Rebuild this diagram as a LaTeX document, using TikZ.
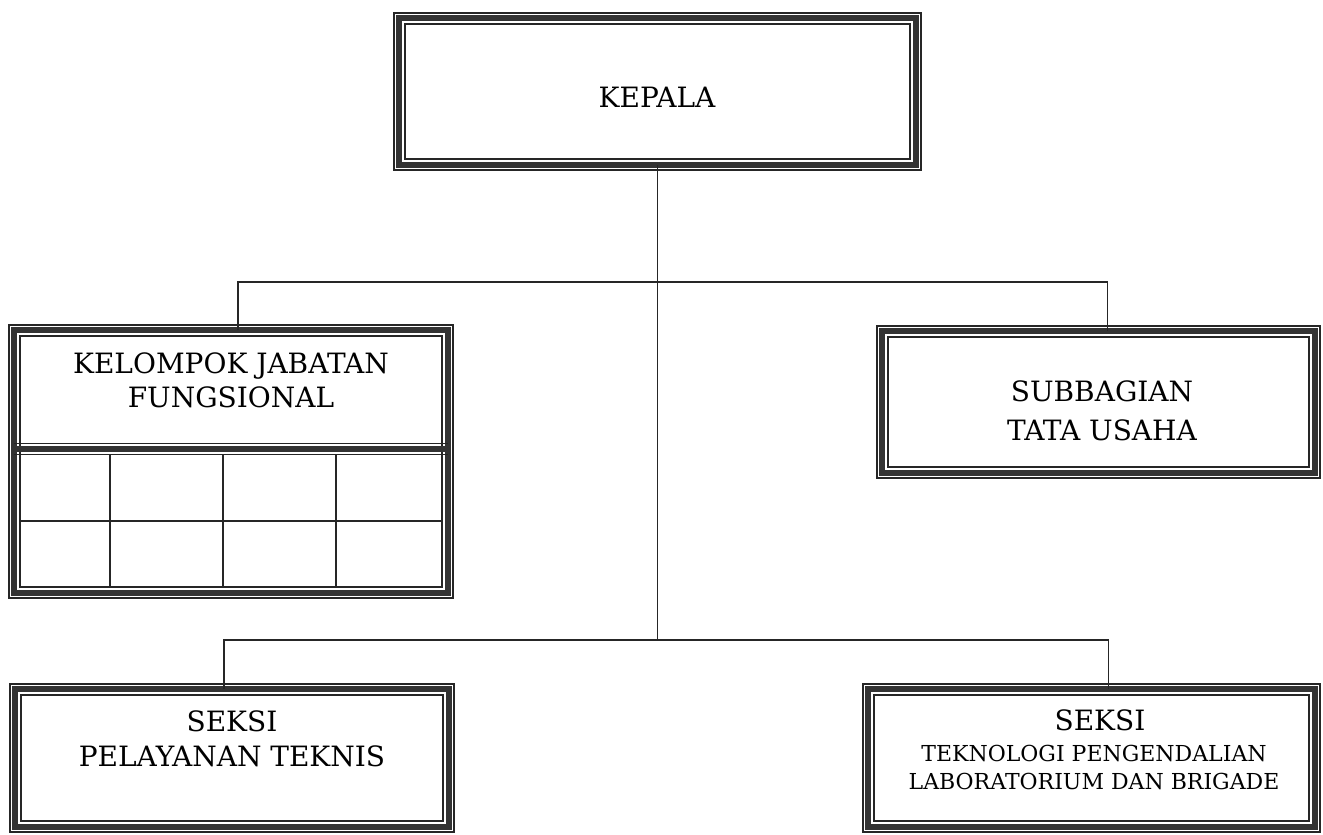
\documentclass[tikz,border=0pt]{standalone}
\usepackage{fontspec}
\setmainfont{DejaVu Serif}
\usetikzlibrary{calc}
\tikzset{
  x=1pt, y=-1pt,
  bandbox/.style={draw=black!80, line width=6.5pt, inner sep=0pt, outer sep=0pt, fill=white},
  thinline/.style={draw=black!85, line width=1.5pt},
  gridline/.style={draw=black!85, line width=1.7pt},
  conn/.style={draw=black!85, line width=1.5pt},
  lbl/.style={align=center, inner sep=0pt, font=\fontsize{28}{34}\selectfont},
}
\newcommand\orgbox[5]{%
  \node[bandbox, minimum width={#4-#2-12}, minimum height={#5-#3-12}] (#1) at ({(#2+#4)/2},{(#3+#5)/2}) {};
  \draw[thinline] ([shift={(-5.2,-5.2)}]#1.north west) rectangle ([shift={(5.2,5.2)}]#1.south east);
  \draw[thinline] ([shift={(6,6)}]#1.north west) rectangle ([shift={(-6,-6)}]#1.south east);
}
\begin{document}
\begin{tikzpicture}
\useasboundingbox (0,0) rectangle (1323,835);
\orgbox{kepala}{393}{12}{922}{171}
\orgbox{kjf}{8}{324}{454}{599}
\orgbox{sub}{876}{325}{1321}{479}
\orgbox{spt}{9}{683}{455}{833}
\orgbox{stp}{862}{683}{1321}{833}
% junctions on the trunk
\coordinate (j1) at (657.5,282);
\coordinate (j2) at (657.5,640);
\draw[conn] (kepala.south) -- (j2);
\draw[conn] ([xshift=7]kjf.north) |- (j1) -| ([xshift=9]sub.north);
\draw[conn] ([xshift=-8]spt.north) |- (j2) -| ([xshift=17]stp.north);
% divider in kjf
\coordinate (dl) at (14,449);
\coordinate (dr) at (448,449);
\draw[draw=black!80, line width=6.5pt] (dl) -- (dr);
\draw[thinline] ([yshift=-5.6]dl) -- ([yshift=-5.6]dr);
\draw[thinline] ([yshift=5.6]dl) -- ([yshift=5.6]dr);
% grid
\coordinate (g1) at (21,521);
\coordinate (g2) at (443,521);
\draw[gridline] (g1) -- (g2);
\coordinate (c1t) at (110,455); \coordinate (c1b) at (110,587);
\coordinate (c2t) at (223,455); \coordinate (c2b) at (223,587);
\coordinate (c3t) at (336,455); \coordinate (c3b) at (336,587);
\draw[gridline] (c1t) -- (c1b);
\draw[gridline] (c2t) -- (c2b);
\draw[gridline] (c3t) -- (c3b);
% labels
\node[lbl] (tkepala) at (657,97) {KEPALA};
\node[lbl] (tkjf) at (231,380) {KELOMPOK JABATAN\\FUNGSIONAL};
\node[lbl, font=\fontsize{28}{39}\selectfont] (tsub) at (1102,411) {SUBBAGIAN\\TATA USAHA};
\node[lbl, font=\fontsize{28}{35}\selectfont] (tspt) at (232,739) {SEKSI\\PELAYANAN TEKNIS};
\node[lbl, anchor=base] (tstp1) at (1100,730) {SEKSI};
\node[lbl, font=\fontsize{22}{28}\selectfont, anchor=base] (tstp2) at (1094,761) {TEKNOLOGI PENGENDALIAN};
\node[lbl, font=\fontsize{22}{28}\selectfont, anchor=base] (tstp3) at (1094,789) {LABORATORIUM DAN BRIGADE};
\end{tikzpicture}
\end{document}
